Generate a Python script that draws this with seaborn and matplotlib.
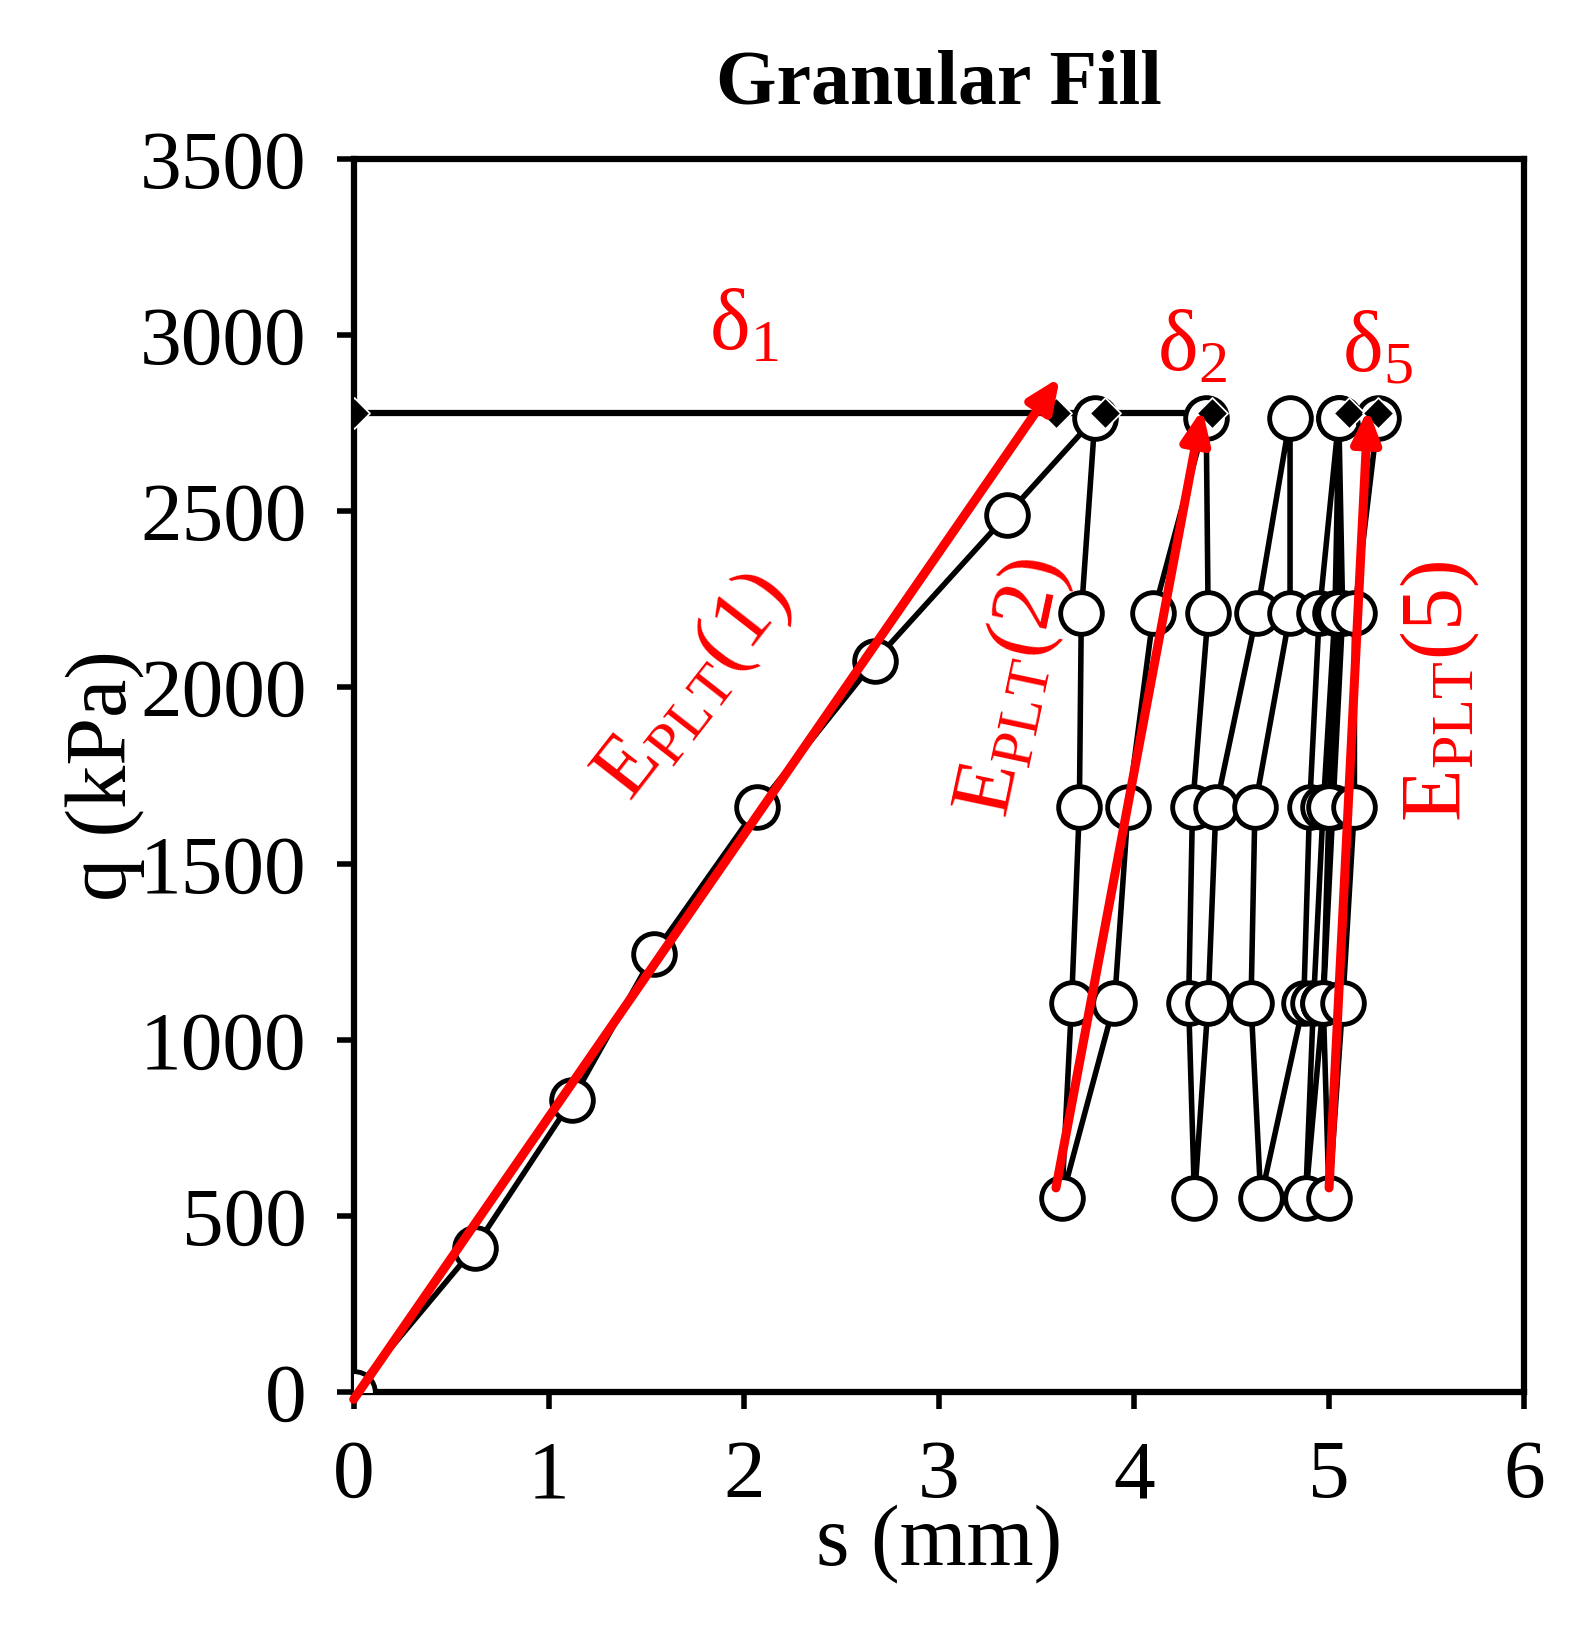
import matplotlib
matplotlib.use("Agg")
import matplotlib.pyplot as plt
import seaborn as sns
import pandas as pd

sns.set_theme(style="white")
plt.rcParams['font.family'] = ['Liberation Serif', 'DejaVu Serif']
plt.rcParams['mathtext.fontset'] = 'custom'
plt.rcParams['mathtext.rm'] = 'Liberation Serif'
plt.rcParams['mathtext.it'] = 'Liberation Serif'
plt.rcParams['text.color'] = 'black'
plt.rcParams['axes.labelcolor'] = 'black'
plt.rcParams['xtick.color'] = 'black'
plt.rcParams['ytick.color'] = 'black'

s_mm = [0, 0.62, 1.12, 1.54, 2.07, 2.67, 3.35, 3.80,
        3.73, 3.72, 3.68, 3.63, 3.90, 3.97, 4.10, 4.37,
        4.38, 4.30, 4.28, 4.31, 4.38, 4.42, 4.63, 4.80,
        4.80, 4.62, 4.60, 4.65, 4.87, 4.90, 4.95, 5.05,
        5.03, 4.97, 4.92, 4.88, 4.97, 5.02, 5.07, 5.05,
        5.05, 5.00, 4.97, 5.00, 5.07, 5.13, 5.13, 5.25]
q_kpa = [0, 410, 830, 1245, 1660, 2075, 2490, 2765,
         2210, 1660, 1105, 550, 1105, 1660, 2210, 2765,
         2210, 1660, 1105, 550, 1105, 1660, 2210, 2765,
         2210, 1660, 1105, 550, 1105, 1660, 2210, 2765,
         2210, 1660, 1105, 550, 1105, 1660, 2210, 2765,
         2210, 1660, 1105, 550, 1105, 1660, 2210, 2765]
delta_s = [0, 3.6, 3.85, 4.4, 5.1, 5.25]
delta_q = [2780, 2780, 2780, 2780, 2780, 2780]

df = pd.DataFrame({"s": s_mm, "q": q_kpa})
dd = pd.DataFrame({"s": delta_s, "q": delta_q})

fig = plt.figure(figsize=(15.86, 16.38), dpi=100)
ax = fig.add_axes([0.223, 0.150, 0.738, 0.753])

sns.lineplot(data=dd.iloc[:4], x="s", y="q", ax=ax, color="black", lw=4.5, sort=False, estimator=None, zorder=2)
sns.lineplot(data=df, x="s", y="q", ax=ax, color="black", lw=4, sort=False, estimator=None,
             marker="o", markersize=30, markerfacecolor="white", markeredgecolor="black",
             markeredgewidth=3.5, zorder=3)
sns.scatterplot(data=dd, x="s", y="q", ax=ax, marker="D", s=250, color="black", zorder=4)

arrows = [((0, -20), (3.62, 2880)), ((3.6, 580), (4.35, 2790)), ((5.0, 580), (5.2, 2790))]
for (x0, y0), (x1, y1) in arrows:
    ax.annotate("", xy=(x1, y1), xytext=(x0, y0),
                arrowprops=dict(arrowstyle="-|>,head_length=1.6,head_width=0.7", color="red", lw=6.5, shrinkA=0, shrinkB=0),
                zorder=5)

red = "red"
ax.text(2.0, 2960, r"$\mathrm{\delta_1}$", color=red, fontsize=62, ha="center")
ax.text(4.3, 2900, r"$\mathrm{\delta_2}$", color=red, fontsize=62, ha="center")
ax.text(5.25, 2900, r"$\mathrm{\delta_5}$", color=red, fontsize=62, ha="center")
ax.text(1.75, 2000, r"$\mathrm{E_{PLT}}$(1)", color=red, fontsize=62, ha="center", va="center", rotation=52)
ax.text(3.38, 2000, r"$\mathrm{E_{PLT}}$(2)", color=red, fontsize=62, ha="center", va="center", rotation=78)
ax.text(5.57, 1990, r"$\mathrm{E_{PLT}}$(5)", color=red, fontsize=62, ha="center", va="center", rotation=90)

ax.set_xlim(0, 6)
ax.set_ylim(0, 3500)
ax.set_xticks(range(0, 7))
ax.set_yticks(range(0, 3501, 500))
ax.tick_params(labelsize=60, direction="out", length=12, width=4, pad=22, bottom=True, left=True)
for sp in ax.spines.values():
    sp.set_linewidth(4.5)
    sp.set_color("black")
ax.set_xlabel("s (mm)", fontsize=62, labelpad=-8)
ax.set_ylabel("q (kPa)", fontsize=62, labelpad=-4)
ax.set_title("Granular Fill", fontsize=56, fontweight="bold", pad=40)

fig.savefig("out.png", dpi=100)
